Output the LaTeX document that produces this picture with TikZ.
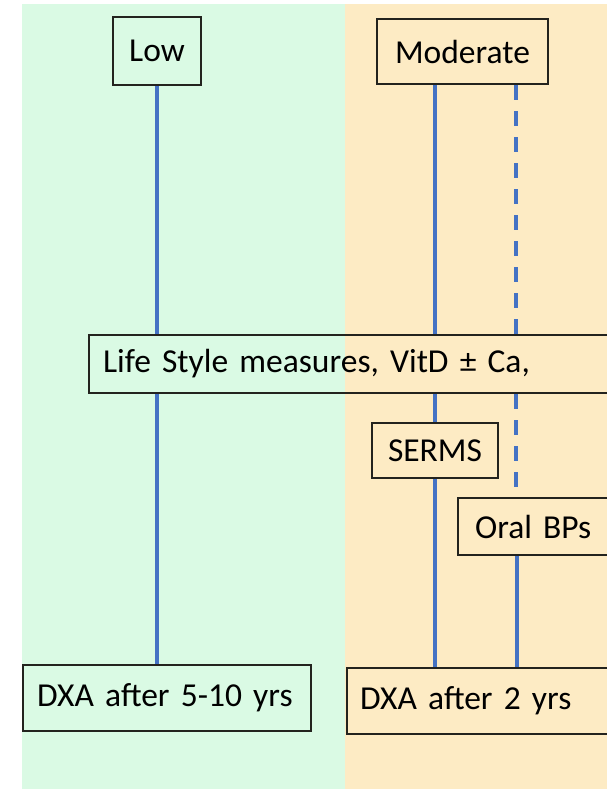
\documentclass[tikz,border=0pt]{standalone}
\usepackage{fontspec}
\setmainfont{Carlito}
\definecolor{lowbg}{RGB}{218,250,228}
\definecolor{modbg}{RGB}{253,235,196}
\definecolor{link}{RGB}{68,114,196}
\definecolor{edge}{RGB}{35,35,30}
\begin{document}
\begin{tikzpicture}[x=1pt,y=-1pt,
  box/.style={draw=edge,line width=2.2pt,rectangle,inner sep=0pt,
    font=\fontsize{33.5}{38}\selectfont},
  wide/.style={box,anchor=west,align=left,inner xsep=#1},
  conn/.style={draw=link,line width=3.2pt},
  dashconn/.style={conn,dash pattern=on 15pt off 11pt}]
  \useasboundingbox (0,0) rectangle (607,789);
  \clip (0,0) rectangle (607,789);
  % risk-level panels
  \fill[lowbg] (22,4) rectangle (345,789);
  \fill[modbg] (345,4) rectangle (607,789);
  % headers
  \node[box,minimum width=88pt,minimum height=68pt] (low) at (157,51) {Low};
  \node[box,minimum width=171pt,minimum height=65pt] (mod) at (462.5,51.5) {Moderate};
  % shared measures
  \node[wide=14pt,text width=509pt,minimum height=58pt] (life) at (88,364)
    {Life Style measures, VitD \char"00B1{} Ca,};
  % treatments
  \node[box,minimum width=126pt,minimum height=55pt] (serms) at (435,450.5) {SERMS};
  \node[wide=17pt,text width=134pt,minimum height=57pt] (oral) at (457,526.5) {Oral BPs};
  % follow-up
  \node[wide=14pt,text width=260pt,minimum height=66pt] (dxa1) at (22,698) {DXA after 5-10 yrs};
  \node[wide=13pt,text width=250pt,minimum height=66pt] (dxa2) at (346,701) {DXA after 2 yrs};
  \coordinate (dashx) at (516,0);
  \coordinate (oralx) at (517,0);
  % pathways
  \draw[conn] (low.south) -- (low.south |- life.north);
  \draw[conn] (life.south -| low) -- (dxa1.north -| low);
  \draw[conn] (mod.south -| serms) -- (life.north -| serms);
  \draw[conn] (life.south -| serms) -- (serms.north);
  \draw[conn] (serms.south) -- (dxa2.north -| serms);
  \draw[dashconn] (mod.south -| dashx) -- (life.north -| dashx);
  \draw[dashconn] (life.south -| dashx) -- (oral.north -| dashx);
  \draw[conn] (oral.south -| oralx) -- (dxa2.north -| oralx);
\end{tikzpicture}
\end{document}
